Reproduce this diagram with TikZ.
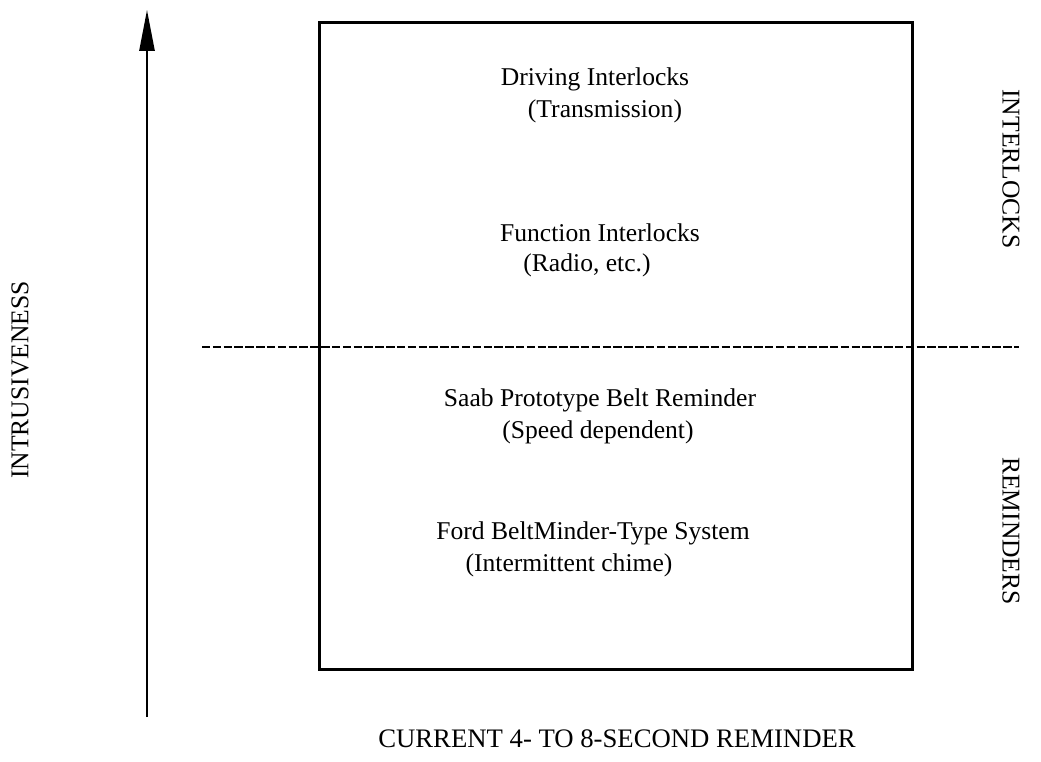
\documentclass[tikz,border=0pt]{standalone}
\usepackage{fontspec}
\setmainfont{Liberation Serif}
\usetikzlibrary{arrows.meta}
\tikzset{lbl/.style={font=\fontsize{18.2}{22}\selectfont,inner sep=0pt},
  side/.style={lbl,font=\fontsize{18.2}{22}\selectfont}}

\begin{document}
\begin{tikzpicture}[x=0.025cm,y=-0.025cm,>={Triangle[length=1.02cm,width=0.38cm]}]
\useasboundingbox (0,0) rectangle (1041,762);
\node[draw,line width=2.2pt,minimum width=14.8cm,minimum height=16.15cm,inner sep=0pt] (frame) at (616,346) {};
\coordinate (axlo) at (147,717);
\coordinate (axhi) at (147,10);
\draw[->,line width=1.3pt] (axlo)--(axhi);
\coordinate (cutl) at (202,347);
\coordinate (cutr) at (1019,347);
\draw[line width=1.8pt,dash pattern=on 6pt off 1.7pt] (cutl)--(cutr);
\node[side,rotate=90] (intr) at (20,380) {INTRUSIVENESS};
\node[side,rotate=-90] (ilock) at (1011,169) {INTERLOCKS};
\node[side,rotate=-90] (remd) at (1011,531) {REMINDERS};
\node[lbl] (drive) at (595,79) {Driving Interlocks};
\node[lbl] (trans) at (605,111) {(Transmission)};
\node[lbl] (func) at (600,233) {Function Interlocks};
\node[lbl] (radio) at (587,265) {(Radio, etc.)};
\node[lbl] (saab) at (600,400) {Saab Prototype Belt Reminder};
\node[lbl] (speed) at (598,432) {(Speed dependent)};
\node[lbl] (ford) at (593,533) {Ford BeltMinder-Type System};
\node[lbl] (chime) at (569,565) {(Intermittent chime)};
\node[lbl,font=\fontsize{19}{22}\selectfont] (curr) at (617,739) {CURRENT 4- TO 8-SECOND REMINDER};
\end{tikzpicture}
\end{document}
